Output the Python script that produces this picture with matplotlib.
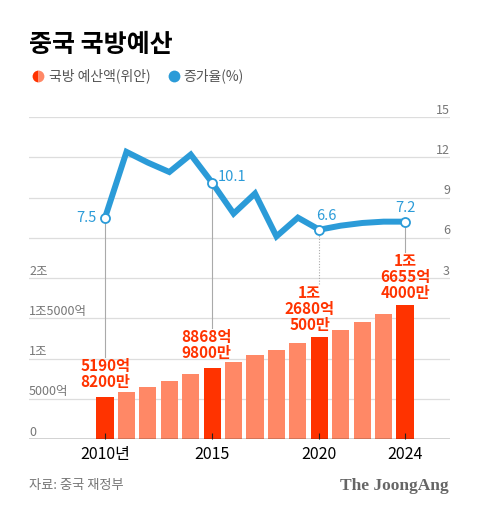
import matplotlib
matplotlib.use('Agg')
import matplotlib.pyplot as plt
from matplotlib.lines import Line2D

plt.rcParams['font.family'] = ['Noto Sans CJK KR', 'DejaVu Sans']

# 데이터 (억 위안, %)
years = list(range(2010, 2025))
budget = [5190.82, 5836, 6503, 7202, 8082, 8868.98, 9544, 10444, 11070, 11899,
          12680.05, 13553, 14505, 15537, 16655.4]
growth = [7.5, 12.4, 11.6, 10.9, 12.2, 10.1, 7.8, 9.3, 6.1, 7.5,
          6.6, 6.9, 7.1, 7.2, 7.2]
highlight_years = [2010, 2015, 2020, 2024]
budget_labels = ['5190억\n8200만', '8868억\n9800만', '1조\n2680억\n500만', '1조\n6655억\n4000만']
growth_labels = ['7.5', '10.1', '6.6', '7.2']
left_ticks = [0, 5000, 10000, 15000, 20000]
left_tick_labels = ['0', '5000억', '1조', '1조5000억', '2조']
right_ticks = [3, 6, 9, 12, 15]
xtick_years = [2010, 2015, 2020, 2024]
xtick_labels = ['2010년', '2015', '2020', '2024']

RED = '#ff3300'
SALMON = '#ff8866'
BLUE = '#2b9bd8'

W, H = 480, 515
fig = plt.figure(figsize=(W / 100, H / 100), dpi=100)
ax = fig.add_axes([29 / W, 76 / H, 421 / W, 322 / H])
ax2 = ax.twinx()

ax.set_xlim(2006.45, 2026.1)
ax.set_ylim(0, 40000)
ax2.set_ylim(-9, 15)
for a in (ax, ax2):
    for s in a.spines.values():
        s.set_visible(False)
    a.set_yticks([])

# 그리드
for v in range(5000, 40001, 5000):
    ax.axhline(v, color='#dddddd', lw=0.9, zorder=0)
ax.axhline(0, color='#222222', lw=1.0, zorder=3)

# 막대
colors = [RED if y in highlight_years else SALMON for y in years]
ax.bar(years, budget, width=0.8, color=colors, zorder=1)

ax.set_xticks(xtick_years, xtick_labels, fontsize=11.5)
ax.tick_params(axis='x', direction='in', length=4, width=0.8, color='#222222', pad=5)

# 축 라벨
for v, lab in zip(left_ticks, left_tick_labels):
    ax.annotate(lab, xy=(0, v), xycoords=ax.get_yaxis_transform(), xytext=(0, 2.5),
                textcoords='offset points', ha='left', va='baseline', fontsize=9, color='#777777')
for v in right_ticks:
    ax2.annotate(str(v), xy=(1, v), xycoords=ax2.get_yaxis_transform(), xytext=(0, 2.5),
                 textcoords='offset points', ha='right', va='baseline', fontsize=9, color='#777777')

# 예산액 라벨
bar_label_offsets = [(0, 5), (-4, 5), (-7, 3), (0, 3)]
bar_anns = []
for y, lab, off in zip(highlight_years, budget_labels, bar_label_offsets):
    v = budget[years.index(y)]
    a = ax.annotate(lab, xy=(y, v), xytext=off, textcoords='offset points', ha='center',
                    va='bottom', fontsize=11, color=RED, fontweight='bold', linespacing=1.0)
    bar_anns.append(a)

# 증가율 선
ax2.plot(years, growth, color=BLUE, lw=4.3, solid_joinstyle='miter', solid_capstyle='butt', zorder=3)
hg = [growth[years.index(y)] for y in highlight_years]
ax2.plot(highlight_years, hg, 'o', ms=6.5, mfc='white', mec=BLUE, mew=1.3, zorder=4)

growth_label_style = [('right', 'center', (-6, 0)), ('left', 'center', (4, 4)),
                      ('center', 'bottom', (5, 5)), ('center', 'bottom', (0, 5))]
for y, g, lab, (ha, va, off) in zip(highlight_years, hg, growth_labels, growth_label_style):
    ax2.annotate(lab, xy=(y, g), xytext=off, textcoords='offset points', ha=ha, va=va,
                 fontsize=10.5, color=BLUE)

# 가이드 선 (마커 ~ 라벨 위)
fig.canvas.draw()
inv = ax2.transData.inverted()
for y, g, a in zip(highlight_years, hg, bar_anns):
    top = a.get_window_extent().y1
    y_end = inv.transform((0, top + 1))[1]
    ls = (0, (1, 1.5)) if y == 2020 else '-'
    ax2.plot([y, y], [y_end, g], color='#aaaaaa', lw=0.8, ls=ls, zorder=2)

# 제목, 범례
fig.text(29 / W, 1 - 45 / H, '중국 국방예산', fontsize=18, fontweight='black', va='center')
fig.add_artist(Line2D([38 / W], [1 - 76 / H], marker='o', ms=8.5, fillstyle='left',
                      markerfacecolor=RED, markerfacecoloralt=SALMON, markeredgewidth=0,
                      transform=fig.transFigure))
fig.text(49 / W, 1 - 76 / H, '국방 예산액(위안)', fontsize=10, color='#555555', va='center')
fig.add_artist(Line2D([174 / W], [1 - 76 / H], marker='o', ms=8.5, color=BLUE,
                      markeredgewidth=0, transform=fig.transFigure))
fig.text(183 / W, 1 - 76 / H, '증가율(%)', fontsize=10, color='#555555', va='center')

# 출처
fig.text(29 / W, 1 - 486 / H, '자료: 중국 재정부', fontsize=9.5, color='#777777', va='center')
fig.text(449 / W, 1 - 486 / H, 'The JoongAng', fontsize=12.5, color='#666666', va='center',
         ha='right', family='Liberation Serif', fontweight='bold')

fig.savefig('out.png', dpi=100)
